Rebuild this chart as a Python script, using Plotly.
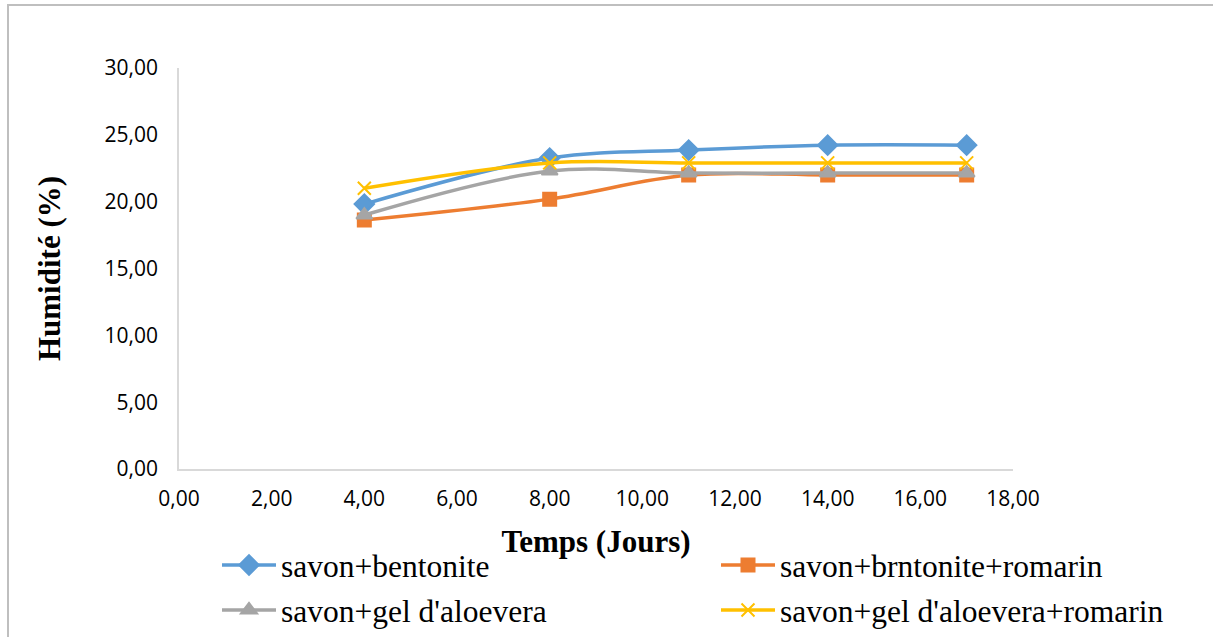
import plotly.graph_objects as go

jours = [4, 8, 11, 14, 17]
bentonite = [19.82, 23.26, 23.86, 24.23, 24.23]
bentonite_romarin = [18.62, 20.19, 21.99, 22.0, 22.0]
aloevera = [19.0, 22.29, 22.14, 22.14, 22.14]
aloevera_romarin = [21.0, 22.9, 22.9, 22.9, 22.9]

series = [
    ("savon+bentonite", bentonite, "#5B9BD5", "diamond", 15, "legend"),
    ("savon+brntonite+romarin", bentonite_romarin, "#ED7D31", "square", 13, "legend2"),
    ("savon+gel d'aloevera", aloevera, "#A5A5A5", "triangle-up", 14, "legend"),
    ("savon+gel d'aloevera+romarin", aloevera_romarin, "#FFC000", "x-thin", 13, "legend2"),
]

fig = go.Figure()
for i, (name, vals, color, sym, size, leg) in enumerate(series):
    fig.add_trace(go.Scatter(
        x=jours, y=vals, name=name, mode="lines+markers",
        legend=leg, legendgroup=f"g{i}",
        line=dict(color=color, width=3.5, shape="spline", smoothing=1),
        marker=dict(symbol=sym, size=size, color=color,
                    line=dict(color=color, width=2)),
    ))

FW, FH = 1213, 637
W0, W = 179, 834
H0, H = 469, 401


def px_x(p):
    return (p - W0) / W


def px_y(p):
    return (H0 - p) / H


legend_font = dict(family="Liberation Serif", size=31.5, color="black")
common_leg = dict(orientation="v", xanchor="left", yanchor="bottom",
                  font=legend_font, itemwidth=54, tracegroupgap=1,
                  bgcolor="rgba(0,0,0,0)", borderwidth=0)

tick_font = dict(family="Open Sans", size=21, color="black")

fig.update_layout(
    width=FW, height=FH,
    margin=dict(l=179, r=200, t=68, b=168, autoexpand=False),
    paper_bgcolor="white", plot_bgcolor="white",
    separators=", ",
    showlegend=True,
    legend=dict(x=px_x(217), y=px_y(637), **common_leg),
    legend2=dict(x=px_x(716), y=px_y(637), **common_leg),
    xaxis=dict(
        range=[0, 18], tick0=0, dtick=2, tickformat=".2f",
        showgrid=False, zeroline=False, showline=True, linecolor="#D9D9D9",
        linewidth=1.5, ticks="", ticklabelstandoff=10, automargin=False,
        tickfont=tick_font,
        title=dict(text="<b>Temps (Jours)</b>", standoff=19,
                   font=dict(family="Liberation Serif", size=31, color="black")),
    ),
    yaxis=dict(
        range=[0, 30], tick0=0, dtick=5, tickformat=".2f",
        showgrid=False, zeroline=False, showline=True, linecolor="#D9D9D9",
        linewidth=1.5, ticks="", ticklabelstandoff=15, automargin=False,
        tickfont=tick_font,
        title=dict(text="<b>Humidité (%)</b>", standoff=35,
                   font=dict(family="Liberation Serif", size=31, color="black")),
    ),
    shapes=[dict(
        type="rect", xref="paper", yref="paper",
        x0=px_x(8), x1=px_x(1240),
        y0=px_y(660), y1=px_y(5),
        line=dict(color="#BFBFBF", width=2), fillcolor="rgba(0,0,0,0)",
        layer="below",
    )],
)

fig.write_html("out.html", config={"displayModeBar": False},
               post_script="document.body.style.margin='0';")
